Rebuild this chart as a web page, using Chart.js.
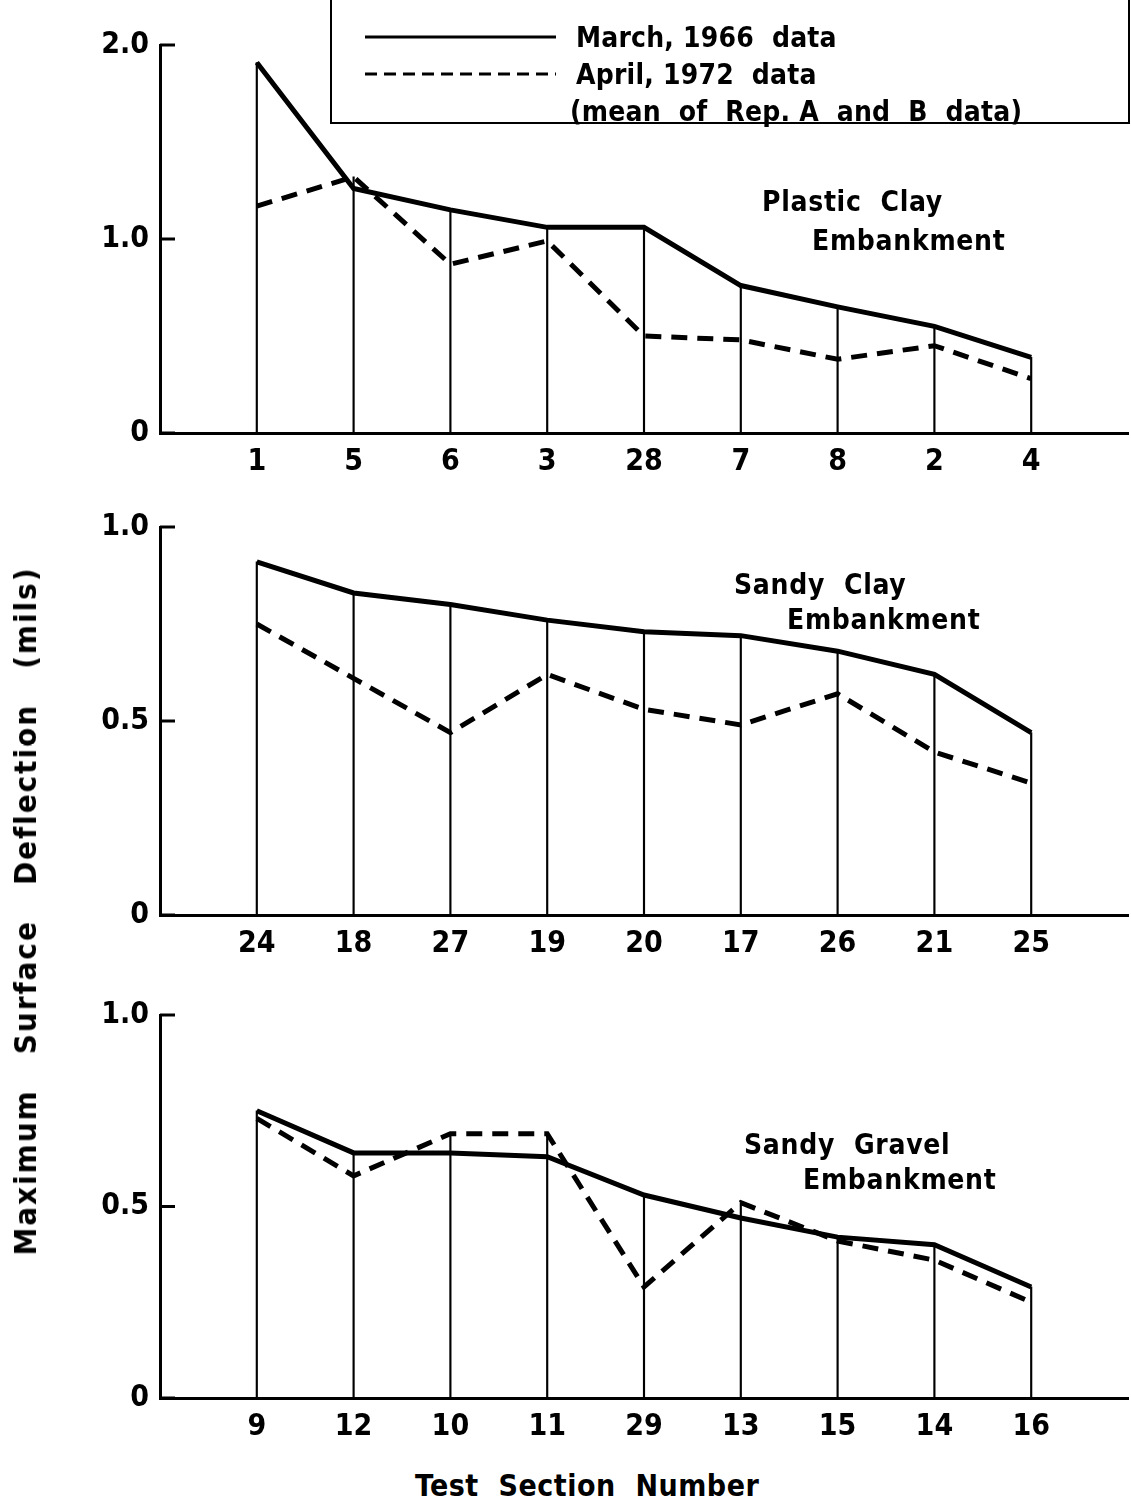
<!DOCTYPE html>
<html>
<head>
<meta charset="utf-8">
<script src="https://cdn.jsdelivr.net/npm/chart.js@4/dist/chart.umd.min.js"></script>
<style>
  body { margin: 0; background: #fff; }
  #page { position: relative; width: 1131px; height: 1504px; overflow: hidden;
          font-family: "DejaVu Sans Condensed", "DejaVu Sans", sans-serif; font-weight: bold; color: #000; }
  .panel { position: absolute; left: 0; }
  .note { position: absolute; font-size: 28px; white-space: pre; line-height: 1; letter-spacing: 0.7px; }
  #legend { position: absolute; left: 330px; top: -3px; width: 796px; height: 123px; border: 2px solid #000; }
  #legend .txt { position: absolute; font-size: 28px; white-space: pre; line-height: 1; letter-spacing: 0.2px; }
  #ytitle { position: absolute; left: 25px; top: 911px; font-size: 31px; white-space: pre; letter-spacing: 2px;
            transform: translate(-50%, -50%) rotate(-90deg); }
  #xtitle { position: absolute; left: 415px; top: 1471px; font-size: 30px; white-space: pre; letter-spacing: 0.5px; line-height: 1; }
</style>
</head>
<body>
<div id="page">
  <div class="panel" style="top:0px"><canvas id="c1" width="1139" height="483"></canvas></div>
  <div class="panel" style="top:490px"><canvas id="c2" width="1139" height="475"></canvas></div>
  <div class="panel" style="top:980px"><canvas id="c3" width="1139" height="468"></canvas></div>

  <div id="legend">
    <svg width="796" height="123" style="position:absolute;left:0;top:0">
      <line x1="33" y1="38" x2="224" y2="38" stroke="#000" stroke-width="3"/>
      <line x1="33" y1="75" x2="224" y2="75" stroke="#000" stroke-width="3" stroke-dasharray="12,7"/>
    </svg>
    <div class="txt" style="left:244px;top:25px">March, 1966  data</div>
    <div class="txt" style="left:244px;top:62px">April, 1972  data</div>
    <div class="txt" style="left:238px;top:99px">(mean  of  Rep. A  and  B  data)</div>
  </div>

  <div class="note" style="left:762px;top:188px">Plastic  Clay</div>
  <div class="note" style="left:812px;top:227px">Embankment</div>
  <div class="note" style="left:734px;top:571px">Sandy  Clay</div>
  <div class="note" style="left:787px;top:606px">Embankment</div>
  <div class="note" style="left:744px;top:1131px">Sandy  Gravel</div>
  <div class="note" style="left:803px;top:1166px">Embankment</div>

  <div id="ytitle">Maximum   Surface   Deflection   (mils)</div>
  <div id="xtitle">Test  Section  Number</div>
</div>

<script>
// ── data (deflection, mils) ───────────────────────────────
const sections1 = ["1", "5", "6", "3", "28", "7", "8", "2", "4"];
const march1    = [1.91, 1.26, 1.15, 1.06, 1.06, 0.76, 0.65, 0.55, 0.39];
const april1    = [1.17, 1.32, 0.87, 0.99, 0.50, 0.48, 0.38, 0.45, 0.28];

const sections2 = ["24", "18", "27", "19", "20", "17", "26", "21", "25"];
const march2    = [0.91, 0.83, 0.80, 0.76, 0.73, 0.72, 0.68, 0.62, 0.47];
const april2    = [0.75, 0.61, 0.47, 0.62, 0.53, 0.49, 0.57, 0.42, 0.34];

const sections3 = ["9", "12", "10", "11", "29", "13", "15", "14", "16"];
const march3    = [0.75, 0.64, 0.64, 0.63, 0.53, 0.47, 0.42, 0.40, 0.29];
const april3    = [0.73, 0.58, 0.69, 0.69, 0.29, 0.51, 0.41, 0.36, 0.25];

const yTicksTop   = [0, 1.0, 2.0];
const yTicksLower = [0, 0.5, 1.0];

const FONT = { family: "'DejaVu Sans Condensed', 'DejaVu Sans', sans-serif", size: 30, weight: "bold" };

// short tick marks pointing into the plot, like the original
const innerTicks = {
  id: "innerTicks",
  afterDraw(chart) {
    const y = chart.scales.y, ctx = chart.ctx, left = chart.chartArea.left;
    ctx.save();
    ctx.strokeStyle = "#000";
    ctx.lineWidth = 3;
    y.ticks.forEach(function (t) {
      const py = y.getPixelForValue(t.value);
      ctx.beginPath();
      ctx.moveTo(left, py);
      ctx.lineTo(left + 15, py);
      ctx.stroke();
    });
    ctx.restore();
  }
};

// pad the category axis with blank slots at both ends
function pad(arr, blank) { return [blank].concat(arr, [blank]); }

function makePanel(id, sections, march, april, yMax, yTicks, padTop) {
  const drop = march.map(function (v, i) { return Math.max(v, april[i]); });
  new Chart(document.getElementById(id), {
    data: {
      labels: pad(sections, ""),
      datasets: [
        {
          type: "line", label: "March, 1966 data", data: pad(march, null),
          borderColor: "#000", borderWidth: 5, pointRadius: 0, tension: 0, order: 1
        },
        {
          type: "line", label: "April, 1972 data", data: pad(april, null),
          borderColor: "#000", borderWidth: 5, borderDash: [16, 10], pointRadius: 0, tension: 0, order: 2
        },
        {
          type: "bar", label: "drop", data: pad(drop, null),
          backgroundColor: "#000", barThickness: 1.5, order: 3
        }
      ]
    },
    options: {
      responsive: false,
      animation: false,
      devicePixelRatio: 1,
      layout: { padding: { top: padTop, left: 0, right: 0, bottom: 0 } },
      plugins: { legend: { display: false }, tooltip: { enabled: false } },
      scales: {
        x: {
          type: "category",
          offset: false,
          grid: { drawOnChartArea: false, drawTicks: false },
          border: { display: true, color: "#000", width: 3 },
          ticks: { color: "#000", font: FONT, padding: 11, autoSkip: false, maxRotation: 0 },
          afterFit: function (s) { s.height = 50; }
        },
        y: {
          min: 0, max: yMax,
          grid: { drawOnChartArea: false, drawTicks: false },
          border: { display: true, color: "#000", width: 3 },
          afterBuildTicks: function (s) { s.ticks = yTicks.map(function (v) { return { value: v }; }); },
          ticks: {
            color: "#000", font: FONT, padding: 11,
            callback: function (v) { return v === 0 ? "0" : Number(v).toFixed(1); }
          },
          afterFit: function (s) { s.width = 160; }
        }
      }
    },
    plugins: [innerTicks]
  });
}

makePanel("c1", sections1, march1, april1, 2.0, yTicksTop,   45);
makePanel("c2", sections2, march2, april2, 1.0, yTicksLower, 37);
makePanel("c3", sections3, march3, april3, 1.0, yTicksLower, 35);
</script>
</body>
</html>
